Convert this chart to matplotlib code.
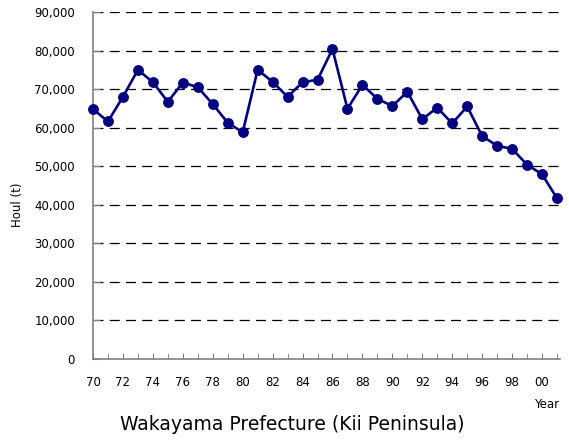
import numpy as np
import matplotlib.pyplot as plt
from matplotlib.ticker import FuncFormatter, MultipleLocator

# annual haul, Wakayama Prefecture
years = np.arange(70, 102)
haul = [64800, 61600, 68000, 75000, 71800, 66700, 71700, 70500, 66100, 61300,
        58800, 75000, 71900, 68000, 71800, 72400, 80400, 64900, 71100, 67500,
        65600, 69300, 62200, 65200, 61100, 65500, 57800, 55300, 54500, 50400,
        47900, 41700]
year_labels = ["70", "72", "74", "76", "78", "80", "82", "84", "86", "88",
               "90", "92", "94", "96", "98", "00"]

fig = plt.figure(figsize=(5.69, 4.43), dpi=100)
ax = fig.add_axes([93/569, 1-359/443, (560-93)/569, (359-12)/443])

ax.plot(years, haul, color="#000080", lw=1.9, marker="o", ms=6.8, zorder=3,
        clip_on=False)

ax.set_xlim(70, 101.2)
ax.set_ylim(0, 90000)
ax.yaxis.set_major_locator(MultipleLocator(10000))
ax.yaxis.set_major_formatter(FuncFormatter(lambda v, p: f"{int(v):,}"))
ax.set_xticks(years, minor=True)
ax.set_xticks(years[::2])
ax.set_xticklabels(year_labels)

for y in range(10000, 90001, 10000):
    ax.axhline(y, color="black", lw=0.9, ls=(0, (8, 5)), zorder=1)

for s in ["top", "right"]:
    ax.spines[s].set_visible(False)
for s in ["left", "bottom"]:
    ax.spines[s].set_color("#808080")
    ax.spines[s].set_linewidth(1.2)

ax.tick_params(axis="y", direction="in", length=5, color="#808080",
               labelsize=8.5, pad=13)
ax.tick_params(axis="x", which="both", direction="in", length=4,
               color="#808080", labelsize=8.5, pad=12)

fig.text(17/569, 1-205/443, "Houl (t)", rotation=90, ha="center", va="center",
         fontsize=8.5)
fig.text(547/569, 1-404/443, "Year", ha="center", va="center", fontsize=8.5)
fig.text(292/569, 1-425/443, "Wakayama Prefecture (Kii Peninsula)",
         ha="center", va="center", fontsize=13.5)

fig.savefig("out.png", dpi=100)
